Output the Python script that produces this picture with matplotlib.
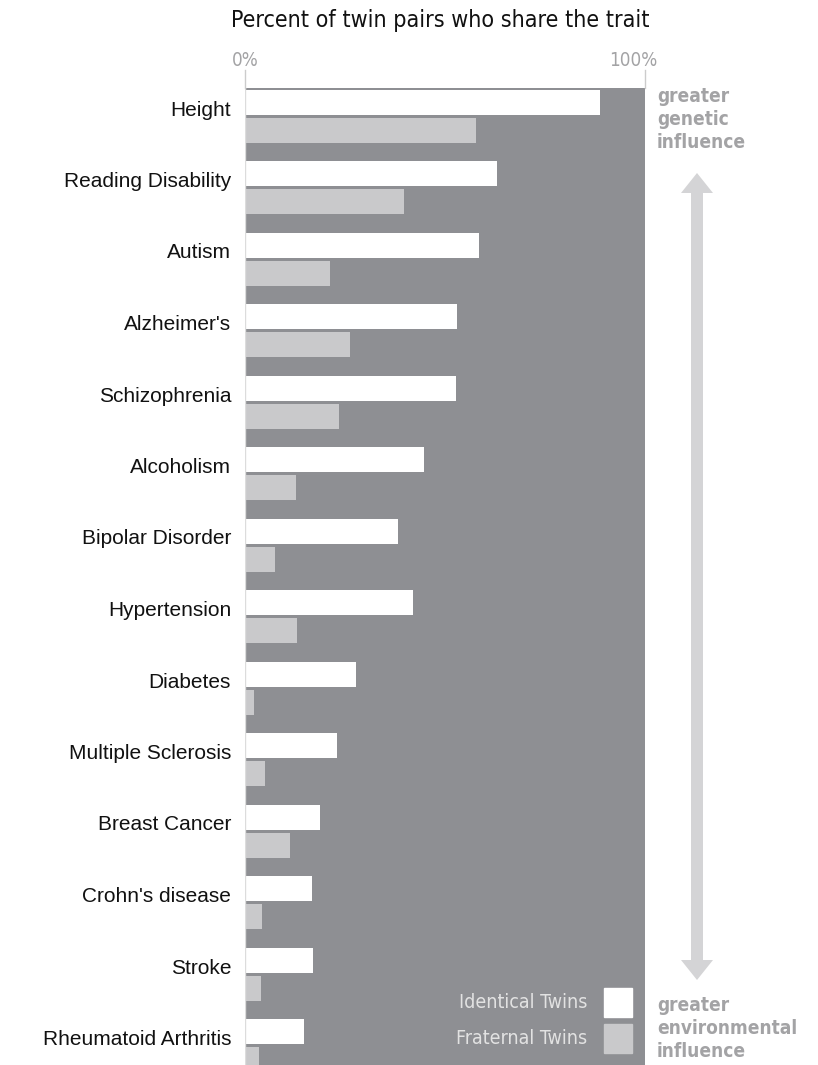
import matplotlib
matplotlib.use("Agg")
import matplotlib.pyplot as plt
from matplotlib.patches import FancyArrow, Rectangle

# data
traits = ["Height", "Reading Disability", "Autism", "Alzheimer's", "Schizophrenia",
          "Alcoholism", "Bipolar Disorder", "Hypertension", "Diabetes",
          "Multiple Sclerosis", "Breast Cancer", "Crohn's disease", "Stroke",
          "Rheumatoid Arthritis"]
identical = [88.8, 63.0, 58.5, 53.0, 52.8, 44.8, 38.3, 42.0, 27.8, 23.0, 18.8, 16.8, 17.0, 14.8]
fraternal = [57.8, 39.8, 21.3, 26.3, 23.5, 12.8, 7.5, 13.0, 2.3, 5.0, 11.3, 4.3, 4.0, 3.5]
xticks = [0, 100]
xticklabels = ["0%", "100%"]

# colours
bg = "#8e8f93"
light = "#c9c9cb"
note = "#a3a3a5"
narrow = dict(family="DejaVu Sans", stretch="condensed")

W, H = 818, 1065
fig = plt.figure(figsize=(W / 100, H / 100), dpi=100)
# axes placed in pixel terms: 0% at x=245, 100% at x=645, top 88, bottom 1065
ax = fig.add_axes([245 / W, 0, 400 / W, (H - 88) / H])
ax.set_facecolor(bg)

pitch = 71.5
rows = list(range(len(traits)))
bar_h = 25 / pitch
ax.barh([r - 0.08 for r in rows], identical, height=bar_h, color="white", zorder=3)
ax.barh([r + 0.31 for r in rows], fraternal, height=bar_h, color=light, zorder=3)

ax.set_xlim(0, 100)
ax.set_ylim((H - 108) / pitch, -20 / pitch)
ax.set_yticks(rows)
ax.set_yticklabels(traits, fontsize=15, family="Liberation Sans", color="#111111")
ax.tick_params(axis="y", length=0, pad=10)
ax.set_xticks([])
for s in ax.spines.values():
    s.set_visible(False)
ax.axvline(0, color="#dcdcdc", lw=1, zorder=4)

# top axis labels and tick marks
for xv, lab, off in zip(xticks, xticklabels, [0, -12]):
    xp = (245 + 4 * xv) / W
    fig.add_artist(plt.Line2D([xp, xp], [1 - 70 / H, 1 - 88 / H], color="#cccccc", lw=1))
    fig.text(xp + off / W, 1 - 60 / H, lab, ha="center", va="center", fontsize=13.5,
             color=note, **narrow)

fig.text(440 / W, 1 - 20 / H, "Percent of twin pairs who share the trait", ha="center",
         va="center", fontsize=16.7, color="#111111", **narrow)

# side notes
fig.text(657 / W, 1 - 87 / H, "greater\ngenetic\ninfluence", ha="left", va="top",
         fontsize=13.7, weight="bold", color=note, linespacing=1.27, **narrow)
fig.text(657 / W, 1 - 996 / H, "greater\nenvironmental\ninfluence", ha="left", va="top",
         fontsize=13.7, weight="bold", color=note, linespacing=1.27, **narrow)

# double arrow: up arrow with shaft ending at the base of a down head, in inches
top, bot, head = 173, 980, 20
fig.add_artist(FancyArrow(697 / 100, (H - bot + head - 1) / 100, 0, (bot - head + 1 - top) / 100,
                          width=0.12, head_width=0.32, head_length=head / 100,
                          length_includes_head=True, color="#d4d4d6", lw=0,
                          transform=fig.dpi_scale_trans))
fig.add_artist(FancyArrow(697 / 100, (H - bot + head) / 100, 0, -head / 100,
                          width=0.0, head_width=0.32, head_length=head / 100,
                          length_includes_head=True, color="#d4d4d6", lw=0,
                          transform=fig.dpi_scale_trans))

# legend inside the plot, bottom right
for yp, col, lab in [(988, "white", "Identical Twins"), (1024, light, "Fraternal Twins")]:
    fig.add_artist(Rectangle((604 / W, 1 - (yp + 29) / H), 28 / W, 29 / H,
                             transform=fig.transFigure, color=col))
    fig.text(587 / W, 1 - (yp + 14) / H, lab, ha="right", va="center", fontsize=14,
             color="#e2e2e2", **narrow)

fig.savefig("out.png", dpi=100, facecolor="white")
